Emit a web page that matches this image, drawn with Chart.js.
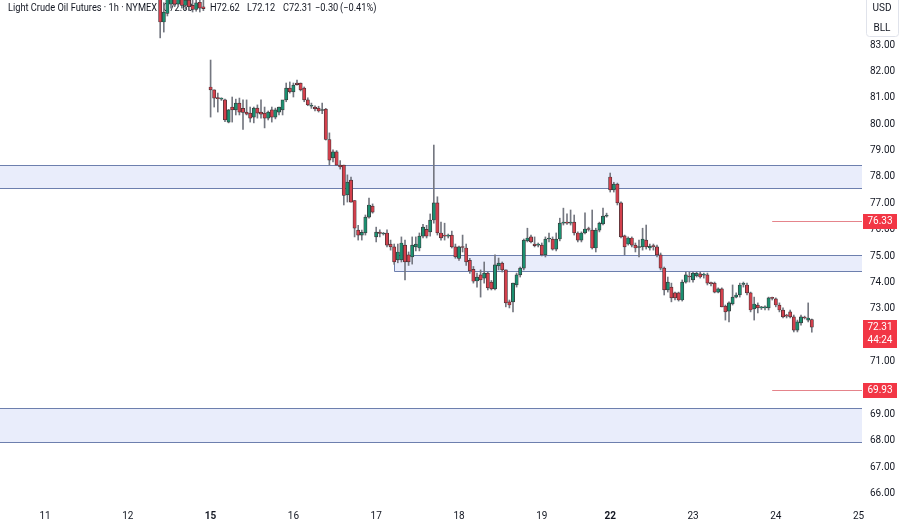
<!DOCTYPE html>
<html>
<head>
<meta charset="utf-8">
<script src="https://cdn.jsdelivr.net/npm/chart.js@4.4.1/dist/chart.umd.min.js"></script>
<style>
  html, body { margin: 0; padding: 0; background: #fff; }
  canvas { display: block; }
</style>
</head>
<body>
<canvas id="grafico" width="900" height="523"></canvas>
<script>
// hourly bars, index 0 = first slot of the visible window
const totalBars = 240;
const firstBar = 44;

const opens = [
  84.90, 83.87, 84.20, 84.55, 84.80, 84.55, 84.75, 84.50, 84.70, 84.50, 84.35, 84.62, 84.45, null,
  81.41, 81.30, 81.00, 80.95, 80.92, 80.08, 80.65, 80.54, 80.80, 80.60,
  80.46, 80.42, 80.27, 80.61, 80.46, 80.42, 80.23, 80.54, 80.27, 80.46,
  80.54, 80.92, 81.37, 81.22, 81.56, 81.56, 81.37, 80.92, 80.68, 80.65,
  80.61, 80.52, 80.57, 79.42, 78.72, 78.95, 78.45, 78.45, 77.32, 77.88,
  77.11, 75.99, 75.80, 75.88, 76.48, 76.90,
  75.73, 75.91, 75.84, 75.88, 75.46, 75.35, 74.86, 74.86, 75.42, 75.05,
  74.97, 75.35, 75.31, 75.76, 76.02, 75.92, 76.37, 77.02, 75.88, 75.80,
  75.76, 75.80, 75.35, 74.92, 75.35, 75.31, 74.84, 74.50, 74.06, 74.29,
  74.17, 74.36, 74.02, 73.76, 74.63, 74.74, 74.48, 73.27, 73.27, 73.91,
  74.29, 74.55, 75.58, 75.73, 75.46, 75.42, 75.42, 75.05, 75.65, 75.65,
  75.27, 75.65, 76.25, 76.27, 76.25, 76.29, 75.88, 75.61, 75.88, 76.03,
  75.99, 75.31, 75.99, 76.22, 76.52,
  78.00, 77.51, 77.73, 77.02, 75.77, 75.46, 75.69, 75.42, 75.33, 75.35,
  75.61, 75.31, 75.38, 75.35, 75.05, 74.55, 73.72, 73.83, 73.61, 73.61,
  73.34, 74.02, 74.25, 74.10, 74.25, 74.33, 74.28, 74.29, 73.98, 73.98,
  73.64, 73.76, 73.11, 72.92, 73.19, 73.45, 73.53, 73.93, 73.91, 73.61,
  73.00, 73.15, 73.04, 73.04, 73.04, 73.42, 73.38, 73.15, 72.96, 72.75,
  72.89, 72.70, 72.20, 72.47, 72.68, 72.58, 72.60
];
const highs = [
  85.00, 84.60, 85.00, 84.95, 84.95, 84.95, 84.90, 84.85, 84.90, 84.80, 84.75, 84.80, 84.70, null,
  82.43, 81.30, 81.18, 81.00, 80.95, 80.56, 81.03, 80.95, 80.99, 80.92,
  80.92, 80.65, 80.65, 80.73, 80.92, 80.65, 80.50, 80.65, 80.61, 80.65,
  80.73, 81.56, 81.60, 81.56, 81.67, 81.56, 81.41, 81.00, 80.80, 80.70,
  80.68, 80.80, 80.60, 79.67, 79.03, 79.00, 78.62, 78.45, 78.08, 78.00,
  77.11, 76.17, 75.99, 76.56, 77.20, 76.98,
  76.10, 76.00, 75.90, 76.00, 75.61, 75.46, 75.46, 75.73, 75.61, 75.16,
  75.73, 75.73, 75.88, 76.21, 76.17, 76.60, 79.21, 77.25, 76.29, 76.25,
  75.84, 75.95, 75.46, 75.38, 75.80, 75.46, 74.92, 74.61, 74.36, 74.48,
  74.78, 74.40, 74.08, 75.05, 74.93, 74.78, 74.48, 73.34, 73.98, 74.36,
  74.59, 75.65, 76.06, 75.80, 75.73, 75.50, 75.50, 75.73, 75.88, 75.73,
  75.88, 76.44, 76.82, 76.60, 76.75, 76.56, 75.92, 75.92, 76.64, 76.10,
  76.75, 76.06, 76.29, 76.82, 76.63,
  78.15, 77.80, 77.77, 77.06, 75.80, 75.73, 75.73, 75.50, 75.61, 76.06,
  76.18, 75.46, 75.46, 75.42, 75.12, 74.59, 74.21, 73.98, 73.64, 73.64,
  74.10, 74.40, 74.40, 74.40, 74.40, 74.40, 74.36, 74.36, 74.02, 74.02,
  73.80, 73.80, 73.15, 73.27, 73.91, 73.61, 73.98, 74.02, 73.98, 73.64,
  73.45, 73.23, 73.10, 73.12, 73.45, 73.45, 73.42, 73.23, 73.04, 72.80,
  72.96, 72.77, 72.58, 72.77, 72.73, 73.23, 72.62
];
const lows = [
  83.27, 83.49, 84.10, 84.40, 84.45, 84.45, 84.40, 84.35, 84.30, 84.25, 84.28, 84.25, 84.30, null,
  80.27, 80.65, 80.46, 80.90, 80.10, 80.05, 80.08, 80.35, 80.35, 79.80,
  80.35, 80.08, 80.05, 80.23, 80.23, 79.86, 80.16, 80.08, 80.20, 80.35,
  80.35, 80.85, 81.18, 81.03, 81.48, 81.26, 80.85, 80.70, 80.60, 80.50,
  80.46, 80.40, 79.40, 78.45, 78.57, 78.45, 78.30, 76.94, 77.05, 77.05,
  75.73, 75.61, 75.61, 75.80, 76.44, 76.63,
  75.54, 75.73, 75.80, 75.35, 75.23, 74.69, 74.75, 74.78, 74.10, 74.65,
  74.70, 75.20, 75.20, 75.69, 75.69, 75.76, 76.25, 75.80, 75.61, 75.61,
  75.69, 75.31, 74.92, 74.84, 75.16, 74.65, 74.35, 73.98, 73.83, 73.45,
  73.98, 73.72, 73.72, 73.72, 74.48, 74.40, 73.08, 73.04, 72.89, 73.83,
  74.21, 74.48, 75.54, 75.50, 75.35, 75.35, 75.01, 74.97, 75.54, 75.23,
  75.20, 75.58, 76.18, 76.20, 76.18, 75.80, 75.54, 75.54, 75.84, 75.95,
  75.27, 75.16, 75.92, 76.18, 76.48,
  77.43, 77.43, 76.94, 75.69, 75.05, 75.42, 75.35, 75.16, 74.97, 75.23,
  75.27, 75.23, 75.23, 74.97, 74.48, 73.53, 73.64, 73.27, 73.34, 73.30,
  73.30, 73.98, 74.02, 74.02, 74.21, 74.17, 74.17, 73.91, 73.87, 73.61,
  73.61, 73.08, 72.58, 72.51, 73.15, 73.42, 73.45, 73.83, 73.53, 72.89,
  72.58, 72.85, 72.98, 72.96, 72.96, 73.34, 73.08, 72.89, 72.66, 72.66,
  72.66, 72.13, 72.13, 72.39, 72.62, 72.51, 72.12
];
const closes = [
  83.87, 84.25, 84.80, 84.80, 84.55, 84.75, 84.50, 84.70, 84.45, 84.35, 84.60, 84.40, 84.38, null,
  81.30, 80.99, 80.97, 80.97, 80.16, 80.54, 80.54, 80.80, 80.46, 80.45,
  80.38, 80.23, 80.61, 80.42, 80.38, 80.23, 80.46, 80.27, 80.54, 80.65,
  80.92, 81.37, 81.22, 81.48, 81.50, 81.30, 80.92, 80.73, 80.70, 80.58,
  80.50, 80.54, 79.42, 78.64, 78.95, 78.45, 78.38, 77.30, 77.81, 77.05,
  76.06, 75.80, 75.90, 76.48, 76.94, 76.67,
  75.91, 75.86, 75.86, 75.42, 75.35, 74.78, 75.16, 75.50, 74.78, 74.78,
  75.42, 75.46, 75.76, 76.10, 75.76, 76.37, 77.02, 75.88, 75.69, 75.76,
  75.78, 75.35, 74.97, 75.35, 75.33, 74.78, 74.44, 74.05, 74.21, 74.10,
  74.36, 73.80, 73.76, 74.67, 74.74, 74.48, 73.23, 73.15, 73.98, 74.29,
  74.55, 75.61, 75.69, 75.54, 75.40, 75.44, 75.05, 75.65, 75.67, 75.27,
  75.65, 76.25, 76.27, 76.25, 76.29, 75.88, 75.61, 75.88, 76.03, 76.01,
  75.31, 75.99, 76.25, 76.52, 76.56,
  77.51, 77.73, 77.02, 75.73, 75.35, 75.69, 75.42, 75.31, 75.35, 75.65,
  75.35, 75.38, 75.36, 75.05, 74.55, 73.72, 74.02, 73.42, 73.42, 73.34,
  74.02, 74.29, 74.21, 74.36, 74.36, 74.21, 74.29, 73.98, 73.96, 73.64,
  73.76, 73.08, 72.89, 73.23, 73.45, 73.53, 73.91, 73.95, 73.61, 72.96,
  73.19, 73.04, 73.06, 73.08, 73.42, 73.40, 73.15, 72.96, 72.70, 72.73,
  72.70, 72.20, 72.51, 72.70, 72.66, 72.66, 72.31
];

// day labels on the time axis
const dayNames = ['11', '12', '15', '16', '17', '18', '19', '22', '23', '24', '25'];
const dayBars  = [12, 35, 58, 81, 104, 127, 150, 169, 192, 215, 238];
const weekStarts = ['15', '22'];

// price axis
const priceMin = 65.65;
const priceMax = 84.705;
const hiddenTicks = [84, 72, 70];

// zones (top, bottom, first bar or null = from left edge)
const zoneTops = [78.45, 75.04, 69.25];
const zoneBottoms = [77.58, 74.44, 67.96];
const zoneStarts = [null, 109, null];

// level lines and price tags
const levelValues = [76.33, 69.93];
const levelStart = 214;
const tagValues = [76.33, 72.31, 69.93];
const tagTexts = [['76.33'], ['72.31', '44:24'], ['69.93']];

const titleParts = ['Light Crude Oil Futures · 1h · NYMEX', 'O72.60', 'H72.62', 'L72.12', 'C72.31', '−0.30', '(−0.41%)'];
const titleX = [8, 163, 210, 247, 283, 315, 340];

const FONT = 'Roboto, "Noto Sans", sans-serif';
const TEXT = '#131722';
const UP = '#1b8f70';
const DOWN = '#d3404c';

function full(arr) {
  const out = new Array(totalBars).fill(null);
  arr.forEach((v, i) => { out[firstBar + i] = v; });
  return out;
}
const O = full(opens), H = full(highs), L = full(lows), C = full(closes);

const labels = new Array(totalBars).fill('');
dayBars.forEach((b, i) => { labels[b] = dayNames[i]; });

const bodies = O.map((o, i) => (o == null ? null : [o, C[i]]));
const wicks = L.map((l, i) => (l == null ? null : [l, H[i]]));
const bodyColors = O.map((o, i) => (o != null && C[i] >= o ? UP : DOWN));

function noPadding(s) {
  s.paddingTop = 0; s.paddingBottom = 0; s.paddingLeft = 0; s.paddingRight = 0;
}

const overlay = {
  id: 'overlay',
  beforeDatasetsDraw(chart) {
    const { ctx, chartArea: a, scales: { x, y } } = chart;
    ctx.save();
    // title line (squeezed a little to match the narrow original face)
    ctx.fillStyle = TEXT;
    ctx.font = '10.5px ' + FONT;
    ctx.textBaseline = 'middle';
    const sx = 149 / ctx.measureText(titleParts[0]).width;
    titleParts.forEach((t, i) => {
      ctx.save();
      ctx.translate(titleX[i], 8);
      ctx.scale(sx, 1);
      ctx.fillText(t, 0, 0);
      ctx.restore();
    });
    // zones
    zoneTops.forEach((top, i) => {
      const y1 = Math.round(y.getPixelForValue(top)) + 0.5;
      const y2 = Math.round(y.getPixelForValue(zoneBottoms[i])) + 0.5;
      const x1 = zoneStarts[i] == null ? a.left : Math.round(x.getPixelForValue(zoneStarts[i])) + 0.5;
      const x2 = a.right - 2;
      ctx.fillStyle = '#e9edfb';
      ctx.fillRect(x1, y1, x2 - x1, y2 - y1);
      ctx.strokeStyle = '#6d7fae';
      ctx.lineWidth = 1;
      ctx.beginPath();
      ctx.moveTo(x1, y1); ctx.lineTo(x2, y1);
      ctx.moveTo(x1, y2); ctx.lineTo(x2, y2);
      if (zoneStarts[i] != null) { ctx.moveTo(x1, y1); ctx.lineTo(x1, y2); }
      ctx.stroke();
    });
    // level lines
    ctx.strokeStyle = '#e5848b';
    levelValues.forEach(v => {
      const yy = Math.round(y.getPixelForValue(v)) + 0.5;
      ctx.beginPath();
      ctx.moveTo(x.getPixelForValue(levelStart), yy);
      ctx.lineTo(a.right - 2, yy);
      ctx.stroke();
    });
    ctx.restore();
  },
  afterDraw(chart) {
    const { ctx, chartArea: a, scales: { y } } = chart;
    ctx.save();
    ctx.font = '10px ' + FONT;
    ctx.textAlign = 'center';
    ctx.textBaseline = 'middle';
    tagValues.forEach((v, i) => {
      const yy = y.getPixelForValue(v);
      const lines = tagTexts[i];
      const h = lines.length * 13 + 2;
      ctx.fillStyle = '#f23645';
      ctx.fillRect(a.right - 1, Math.round(yy - 7.5), 34, h);
      ctx.fillStyle = '#fff';
      lines.forEach((t, k) => ctx.fillText(t, a.right + 16, yy + k * 13));
    });
    // currency / unit box
    ctx.fillStyle = '#fff';
    ctx.strokeStyle = '#e0e3eb';
    ctx.beginPath();
    ctx.roundRect(866.5, -4.5, 32, 41, 3);
    ctx.fill();
    ctx.stroke();
    ctx.fillStyle = TEXT;
    ctx.fillText('USD', 882, 8);
    ctx.fillText('BLL', 882, 28);
    ctx.restore();
  }
};

new Chart(document.getElementById('grafico'), {
  type: 'bar',
  data: {
    labels,
    datasets: [
      {
        data: bodies,
        backgroundColor: bodyColors,
        borderColor: '#3a2f33',
        borderWidth: 0.7,
        borderSkipped: false,
        barThickness: 3.3,
        minBarLength: 1,
        grouped: false,
        order: 0
      },
      {
        data: wicks,
        backgroundColor: '#747780',
        barThickness: 1,
        grouped: false,
        order: 1
      }
    ]
  },
  options: {
    responsive: false,
    animation: false,
    events: [],
    layout: { padding: 0, autoPadding: false },
    plugins: { legend: { display: false }, tooltip: { enabled: false } },
    scales: {
      x: {
        type: 'category',
        offset: true,
        grid: { display: false, drawTicks: false },
        border: { display: false },
        ticks: {
          autoSkip: false,
          maxRotation: 0,
          padding: 7,
          color: TEXT,
          font: ctx => ({ family: FONT, size: 10, weight: weekStarts.includes(ctx.tick && ctx.tick.label) ? 'bold' : 'normal' })
        },
        afterFit: s => { s.height = 20; noPadding(s); }
      },
      y: {
        position: 'right',
        min: priceMin,
        max: priceMax,
        grid: { display: false, drawTicks: false },
        border: { display: false },
        ticks: {
          stepSize: 1,
          includeBounds: false,
          padding: 6,
          color: TEXT,
          font: { family: FONT, size: 10 },
          callback: v => (hiddenTicks.includes(v) ? '' : v.toFixed(2))
        },
        afterFit: s => { s.width = 36; noPadding(s); }
      }
    }
  },
  plugins: [overlay]
});
</script>
</body>
</html>
